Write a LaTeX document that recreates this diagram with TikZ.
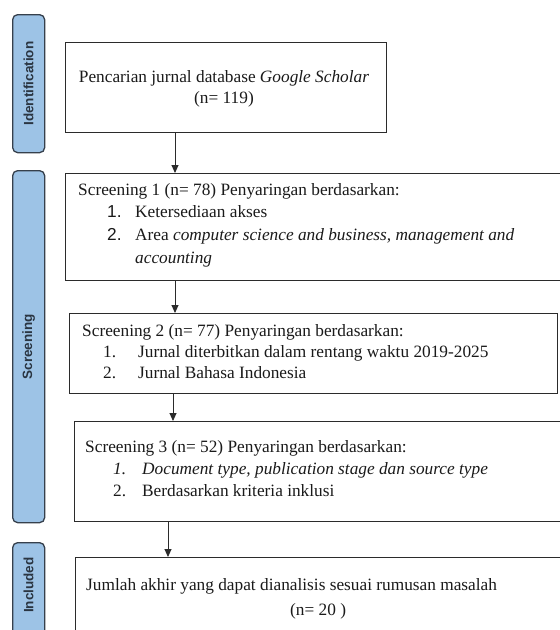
\documentclass[tikz,border=0pt]{standalone}
\usepackage{fontspec}
\setmainfont{Liberation Serif}
\newfontfamily\sansf{Liberation Sans}
\usetikzlibrary{arrows.meta}
\definecolor{barfill}{HTML}{9DC3E6}
\definecolor{barline}{HTML}{36404C}
\definecolor{bartext}{HTML}{2A3542}
\definecolor{boxline}{HTML}{2B2B2B}
\definecolor{txtcol}{HTML}{1A1A1A}
\begin{document}
\begin{tikzpicture}[x=1pt,y=-1pt,
 stage/.style={draw=barline, fill=barfill, line width=1.3pt, rounded corners=5pt, anchor=north west, inner sep=0, minimum width=32pt},
 stagelabel/.style={rotate=90, font=\sansf\bfseries\fontsize{13.5}{14}\selectfont, text=bartext},
 box/.style={draw=boxline, line width=1.4pt, anchor=north west, inner sep=0},
 txt/.style={anchor=base west, inner sep=0, font=\fontsize{17.3}{20}\selectfont, text=txtcol},
 ctxt/.style={txt, anchor=base},
 arr/.style={draw=boxline, line width=0.9pt, -{Triangle[length=8pt,width=7pt]}}]
\clip (0,0) rectangle (560,630);
\fill[white] (0,0) rectangle (560,630);
% stage bars
\node[stage, minimum height=138pt] (sid) at (12,14) {};
\node[stagelabel] at (sid.center) {Identification};
\node[stage, minimum height=352pt] (ssc) at (12,170) {};
\node[stagelabel] at (ssc.center) {Screening};
\node[stage, minimum height=120pt] (sin) at (12,542) {};
\node[stagelabel] at ([yshift=-43pt]sin.north) {Included};
% boxes
\node[box, minimum width=321pt, minimum height=90pt] (b1) at (65,42) {};
\node[box, minimum width=520pt, minimum height=107pt] (b2) at (65,173) {};
\node[box, minimum width=488pt, minimum height=80pt] (b3) at (69,313) {};
\node[box, minimum width=520pt, minimum height=100pt] (b4) at (74,421) {};
\node[box, minimum width=520pt, minimum height=100pt] (b5) at (75,557) {};
% texts
\node[ctxt] at (224,82) {Pencarian jurnal database \textit{Google Scholar}};
\node[ctxt] at (224,103) {(n= 119)};
\node[txt] at (78,195) {Screening 1 (n= 78) Penyaringan berdasarkan:};
\node[txt] at (107,217) {\sansf 1.};
\node[txt] at (135,217) {Ketersediaan akses};
\node[txt] at (107,240) {\sansf 2.};
\node[txt] at (135,240) {Area \textit{computer science and business, management and}};
\node[txt] at (135,263) {\textit{accounting}};
\node[txt] at (82,336) {Screening 2 (n= 77) Penyaringan berdasarkan:};
\node[txt] at (103,357) {1.};
\node[txt] at (138,357) {Jurnal diterbitkan dalam rentang waktu 2019-2025};
\node[txt] at (103,378) {2.};
\node[txt] at (138,378) {Jurnal Bahasa Indonesia};
\node[txt] at (85,452) {Screening 3 (n= 52) Penyaringan berdasarkan:};
\node[txt] at (113,474) {\textit{1.}};
\node[txt] at (142,474) {\textit{Document type, publication stage dan source type}};
\node[txt] at (113,496) {2.};
\node[txt] at (142,496) {Berdasarkan kriteria inklusi};
\node[txt] at (86,590) {Jumlah akhir yang dapat dianalisis sesuai rumusan masalah};
\node[txt] at (290,615) {(n= 20 )};
% connectors
\coordinate (a1) at (175,0);
\coordinate (a2) at (175,0);
\coordinate (a3) at (173,0);
\coordinate (a4) at (168,0);
\draw[arr] (a1 |- b1.south) -- (a1 |- b2.north);
\draw[arr] (a2 |- b2.south) -- (a2 |- b3.north);
\draw[arr] (a3 |- b3.south) -- (a3 |- b4.north);
\draw[arr] (a4 |- b4.south) -- (a4 |- b5.north);
\end{tikzpicture}
\end{document}
